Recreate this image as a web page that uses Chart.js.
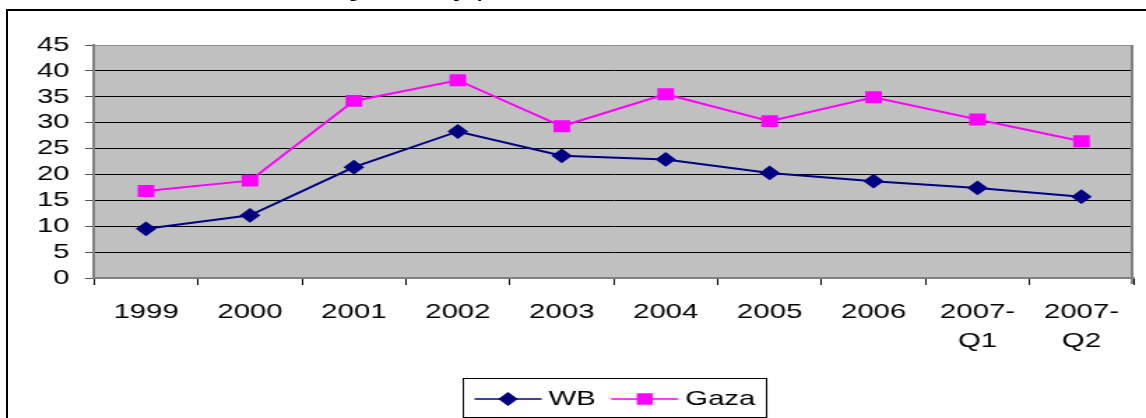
<!DOCTYPE html>
<html>
<head>
<meta charset="utf-8">
<script src="https://cdn.jsdelivr.net/npm/chart.js@4.4.1/dist/chart.umd.min.js"></script>
<style>
  html, body { margin: 0; padding: 0; background: #fff; overflow: hidden; }
  #title { position: absolute; left: 0; width: 1200px; top: -19px; text-align: center;
           font: bold 18px "Liberation Serif", "DejaVu Serif", serif; white-space: nowrap; color: #000; }
  #frame { position: absolute; left: 6px; top: 9px; width: 1300px; height: 600px;
           border: 2px solid #000; box-sizing: border-box; }
  #chart { position: absolute; left: 0; top: 0; }
</style>
</head>
<body>
<div id="title">Figure 3: Unemployment Rate in the West Bank and Gaza, 1999-2007</div>
<div id="frame"></div>
<!-- the original picture is stretched sideways, so the canvas is drawn narrow and widened by css -->
<canvas id="chart" width="820" height="418" style="width:1146px;height:418px"></canvas>
<script>
const categories = ['1999', '2000', '2001', '2002', '2003', '2004', '2005', '2006', ['2007-', 'Q1'], ['2007-', 'Q2']];
const wbValues = [9.5, 12.1, 21.4, 28.3, 23.6, 22.9, 20.3, 18.7, 17.4, 15.7];
const gazaValues = [16.8, 18.8, 34.2, 38.2, 29.3, 35.5, 30.3, 34.9, 30.6, 26.4];
const yTicks = [0, 5, 10, 15, 20, 25, 30, 35, 40, 45];

const FONT = 'Arial, "Liberation Sans", sans-serif';

// grey plot background and right border
const plotBackground = {
  id: 'plotBackground',
  beforeDraw(chart) {
    const { ctx, chartArea: a } = chart;
    ctx.save();
    ctx.fillStyle = '#C0C0C0';
    ctx.fillRect(a.left, a.top, a.right - a.left, a.bottom - a.top);
    ctx.restore();
  },
  afterDraw(chart) {
    const { ctx, chartArea: a } = chart;
    ctx.save();
    ctx.strokeStyle = '#808080';
    ctx.lineWidth = 2;
    ctx.beginPath();
    ctx.moveTo(a.right - 1, a.top);
    ctx.lineTo(a.right - 1, a.bottom + 6);
    ctx.stroke();
    ctx.restore();
  }
};

// boxed legend below the axis, line through the marker like the original
const boxedLegend = {
  id: 'boxedLegend',
  afterDraw(chart) {
    const { ctx, chartArea: a } = chart;
    const lineLen = 48, gap = 5, pad = 8, itemGap = 11;
    const top = 378.5, h = 39, cy = top + h / 2 + 1;
    ctx.save();
    ctx.font = '21px ' + FONT;
    const items = chart.data.datasets.map(ds => ({ ds, w: ctx.measureText(ds.label).width }));
    let total = pad * 2 + itemGap * (items.length - 1);
    items.forEach(it => { total += lineLen + gap + it.w; });
    let x = Math.round((a.left + a.right) / 2 - total / 2) + 0.5;
    ctx.strokeStyle = '#000';
    ctx.lineWidth = 1;
    ctx.strokeRect(x, top, total, h);
    x += pad;
    items.forEach(it => {
      const ds = it.ds;
      ctx.strokeStyle = ds.borderColor;
      ctx.lineWidth = 1.5;
      ctx.beginPath();
      ctx.moveTo(x, cy);
      ctx.lineTo(x + lineLen, cy);
      ctx.stroke();
      ctx.fillStyle = ds.pointBackgroundColor;
      ctx.strokeStyle = ds.pointBackgroundColor;
      Chart.helpers.drawPoint(ctx, { pointStyle: ds.pointStyle, radius: ds.pointRadius, rotation: 0, borderWidth: 1 }, x + lineLen / 2, cy);
      ctx.fillStyle = '#000';
      ctx.textBaseline = 'middle';
      ctx.textAlign = 'left';
      ctx.fillText(ds.label, x + lineLen + gap, cy);
      x += lineLen + gap + it.w + itemGap;
    });
    ctx.restore();
  }
};

new Chart(document.getElementById('chart'), {
  type: 'line',
  data: {
    labels: categories,
    datasets: [
      {
        label: 'WB',
        data: wbValues,
        borderColor: '#000080',
        backgroundColor: '#000080',
        pointBackgroundColor: '#000080',
        pointBorderColor: '#000080',
        borderWidth: 2,
        pointStyle: 'rectRot',
        pointRadius: 6,
        tension: 0,
      },
      {
        label: 'Gaza',
        data: gazaValues,
        borderColor: '#FF00FF',
        backgroundColor: '#FF00FF',
        pointBackgroundColor: '#FF00FF',
        pointBorderColor: '#FF00FF',
        borderWidth: 2,
        pointStyle: 'rect',
        pointRadius: 7,
        tension: 0,
      },
    ],
  },
  options: {
    responsive: false,
    devicePixelRatio: 1,
    animation: false,
    layout: { padding: { top: 45, right: 9, left: 0, bottom: 0 } },
    plugins: {
      legend: { display: false },
      tooltip: { enabled: false },
    },
    scales: {
      x: {
        offset: true,
        grid: { offset: true, drawOnChartArea: false, tickLength: 7, tickColor: '#000', color: '#000' },
        border: { color: '#808080', width: 2 },
        ticks: {
          color: '#000',
          font: { family: FONT, size: 21, lineHeight: 1.38 },
          padding: 13,
          maxRotation: 0,
          autoSkip: false,
        },
        afterFit(scale) { scale.height = 140; },
      },
      y: {
        min: yTicks[0],
        max: yTicks[yTicks.length - 1],
        afterBuildTicks(scale) { scale.ticks = yTicks.map(v => ({ value: v })); },
        grid: {
          color: ctx => (ctx.tick && ctx.tick.value === 45 ? '#909090' : '#000'),
          tickColor: '#555',
          tickLength: 6.5,
          lineWidth: 1,
        },
        border: { color: '#808080', width: 2 },
        ticks: { color: '#000', font: { family: FONT, size: 21 }, padding: 11, autoSkip: false },
        afterFit(scale) { scale.width = 67.3; },
      },
    },
  },
  plugins: [plotBackground, boxedLegend],
});
</script>
</body>
</html>
